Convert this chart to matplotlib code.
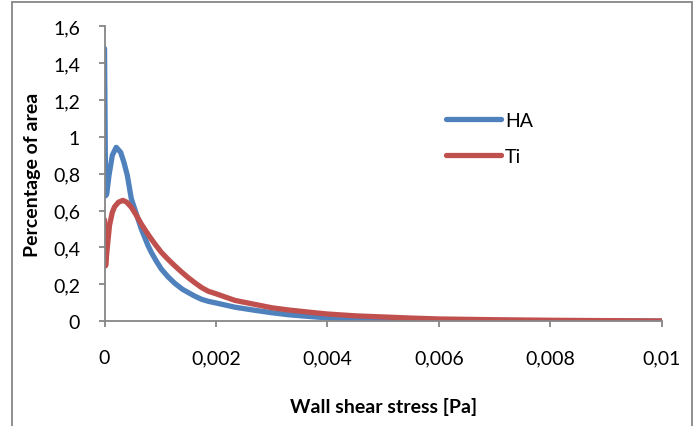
import matplotlib.pyplot as plt
from matplotlib.patches import Rectangle
from matplotlib.ticker import FuncFormatter

plt.rcParams['font.family'] = ['Lato', 'DejaVu Sans']

# wall shear stress [Pa] and percentage of area
ha_x = [0, 0.00002, 0.00004, 0.00008, 0.00014, 0.00021, 0.00029, 0.00035, 0.00041,
        0.00048, 0.00054, 0.0006, 0.00066, 0.00072, 0.00078, 0.00084, 0.00093,
        0.00102, 0.00114, 0.00126, 0.0014, 0.0015, 0.00162, 0.00174, 0.00186,
        0.002, 0.00234, 0.0027, 0.003, 0.0033, 0.0037, 0.004, 0.0045, 0.005,
        0.0055, 0.006, 0.007, 0.008, 0.009, 0.01]
ha_y = [1.48, 0.68, 0.69, 0.79, 0.90, 0.943, 0.916, 0.86, 0.79,
        0.665, 0.61, 0.555, 0.50, 0.455, 0.41, 0.373, 0.325,
        0.282, 0.24, 0.205, 0.172, 0.155, 0.135, 0.118, 0.107,
        0.098, 0.075, 0.058, 0.045, 0.034, 0.024, 0.017, 0.011, 0.007,
        0.004, 0.002, 0.001, 0.0005, 0.0002, 0.0]

ti_x = [0, 0.00002, 0.00005, 0.00009, 0.00014, 0.00018, 0.00025, 0.00033, 0.0004,
        0.00048, 0.00057, 0.00066, 0.00075, 0.00084, 0.00093, 0.00102, 0.00114,
        0.00126, 0.00138, 0.0015, 0.00162, 0.00174, 0.00186, 0.002, 0.00234,
        0.0027, 0.003, 0.0033, 0.0037, 0.004, 0.0045, 0.005, 0.0055, 0.006,
        0.007, 0.008, 0.009, 0.01]
ti_y = [0.55, 0.30, 0.40, 0.52, 0.59, 0.62, 0.645, 0.655, 0.645,
        0.618, 0.575, 0.527, 0.485, 0.445, 0.408, 0.373, 0.335,
        0.30, 0.267, 0.236, 0.208, 0.182, 0.162, 0.148, 0.112,
        0.09, 0.072, 0.06, 0.047, 0.038, 0.028, 0.022, 0.016, 0.011,
        0.007, 0.004, 0.002, 0.0]

x_ticks = [0, 0.002, 0.004, 0.006, 0.008, 0.01]
y_ticks = [0, 0.2, 0.4, 0.6, 0.8, 1.0, 1.2, 1.4, 1.6]

grey = '#868686'

fig = plt.figure(figsize=(7, 4.27), dpi=100)
ax = fig.add_axes([0.1493, 0.2459, 0.796, 0.690])

ax.plot(ha_x, ha_y, color='#4F81BD', lw=3.8, label='HA', solid_capstyle='round')
ax.plot(ti_x, ti_y, color='#C0504D', lw=3.8, label='Ti', solid_capstyle='round')

ax.set_xlim(0, 0.01)
ax.set_ylim(0, 1.6)
ax.set_xticks(x_ticks)
ax.set_yticks(y_ticks)

def comma(v, pos):
    s = ('%.3f' % v).rstrip('0').rstrip('.')
    return s.replace('.', ',')

ax.xaxis.set_major_formatter(FuncFormatter(comma))
ax.yaxis.set_major_formatter(FuncFormatter(comma))

for side in ['top', 'right']:
    ax.spines[side].set_visible(False)
for side in ['left', 'bottom']:
    ax.spines[side].set_color(grey)
    ax.spines[side].set_linewidth(1.3)
ax.tick_params(direction='out', length=4.5, width=1.3, color=grey,
               labelsize=14, labelcolor='black')
ax.tick_params(axis='x', pad=16)
ax.tick_params(axis='y', pad=13)

ax.set_xlabel('Wall shear stress [Pa]', fontsize=14, fontweight='bold', labelpad=22)
ax.set_ylabel('Percentage of area', fontsize=14, fontweight='bold', labelpad=9)

ax.legend(loc='upper left', bbox_to_anchor=(0.613, 0.711), frameon=False,
          borderpad=0, borderaxespad=0,
          fontsize=14, handlelength=2.83, handletextpad=0.2, labelspacing=0.98)

fig.patches.append(Rectangle((12 / 700, -0.1), 680 / 700, 1.1 - 3 / 427,
                             transform=fig.transFigure, fill=False,
                             edgecolor=grey, lw=1.3))

fig.savefig('out.png', dpi=100)
